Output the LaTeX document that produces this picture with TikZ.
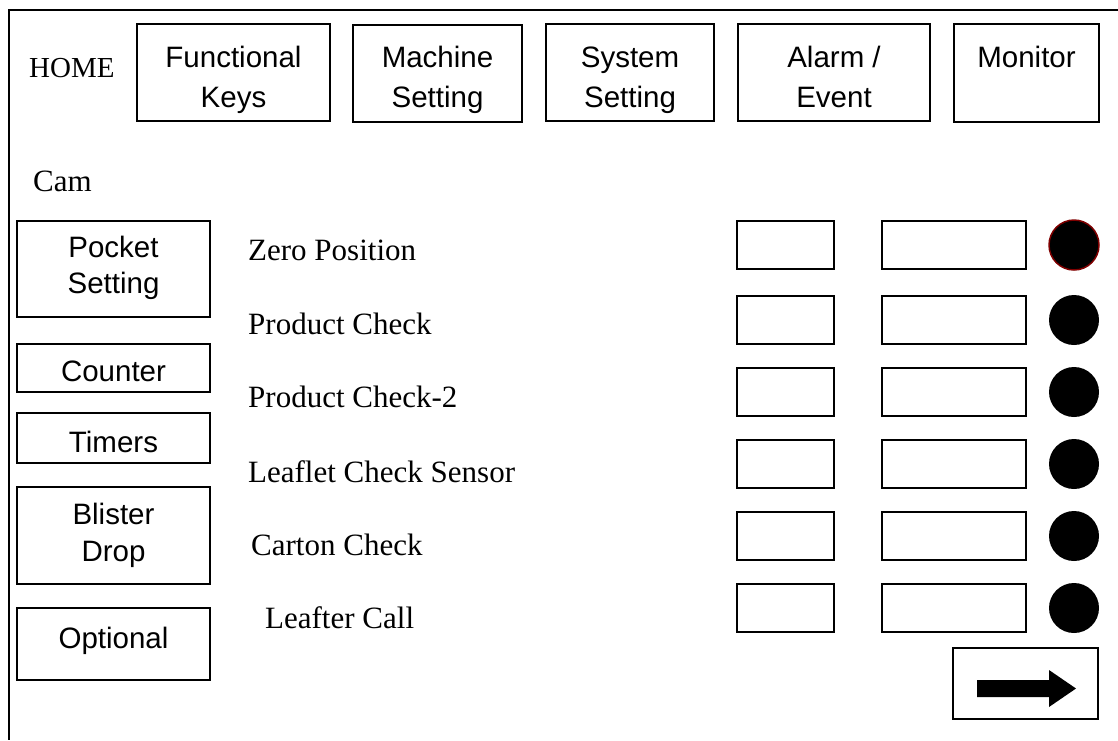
\documentclass[tikz,border=0pt]{standalone}
\usepackage{fontspec}
\setmainfont{Liberation Serif}
\newfontfamily\btnfont{Liberation Sans}
\definecolor{lampred}{RGB}{128,0,0}
\newcommand{\uibox}[6]{\node[#1, minimum width={((#4)-(#2))*1pt}, minimum height={((#5)-(#3))*1pt}] (#6) at ({((#2)+(#4))/2},{((#3)+(#5))/2}) {};}
\tikzset{
  frameline/.style={line width=2.2pt},
  btn/.style={draw, line width=1.4pt, rectangle, inner sep=0pt},
  cell/.style={draw, line width=1.8pt, rectangle, inner sep=0pt},
  lamp/.style={circle, fill=black, inner sep=0pt, minimum size=50pt},
  btntext/.style={font=\btnfont\fontsize{29.5pt}{35pt}\selectfont, inner sep=0pt, anchor=base},
  lbl/.style={font=\fontsize{31pt}{37pt}\selectfont, inner sep=0pt, anchor=base west},
}
\begin{document}
\begin{tikzpicture}[x=1pt,y=-1pt]
\useasboundingbox (0,0) rectangle (1118,740);
% frame
\draw[frameline] (1118,10) -- (9,10) -- (9,740);
% top row
\node[lbl, font=\fontsize{29pt}{35pt}\selectfont] (home) at (29,77) {HOME};
\uibox{btn}{137}{24}{330}{121}{fk}
\node[btntext] (fk1) at (fk.center |- 0,67) {Functional};
\node[btntext] (fk2) at (fk.center |- 0,107) {Keys};
\uibox{btn}{353}{25}{522}{122}{ms}
\node[btntext] (ms1) at (ms.center |- 0,67) {Machine};
\node[btntext] (ms2) at (ms.center |- 0,107) {Setting};
\uibox{btn}{546}{24}{714}{121}{ss}
\node[btntext] (ss1) at (ss.center |- 0,67) {System};
\node[btntext] (ss2) at (ss.center |- 0,107) {Setting};
\uibox{btn}{738}{24}{930}{121}{ae}
\node[btntext] (ae1) at (ae.center |- 0,67) {Alarm /};
\node[btntext] (ae2) at (ae.center |- 0,107) {Event};
\uibox{btn}{954}{24}{1099}{122}{mon}
\node[btntext] (mon1) at (mon.center |- 0,67) {Monitor};
% page title
\node[lbl] (cam) at (33,191) {Cam};
% left buttons
\uibox{btn}{17}{221}{210}{317}{ps}
\node[btntext] (ps1) at (ps.center |- 0,257) {Pocket};
\node[btntext] (ps2) at (ps.center |- 0,293) {Setting};
\uibox{btn}{17}{344}{210}{392}{ct}
\node[btntext] (ct1) at (ct.center |- 0,381) {Counter};
\uibox{btn}{17}{413}{210}{463}{tm}
\node[btntext] (tm1) at (tm.center |- 0,452) {Timers};
\uibox{btn}{17}{487}{210}{584}{bd}
\node[btntext] (bd1) at (bd.center |- 0,524) {Blister};
\node[btntext] (bd2) at (bd.center |- 0,561) {Drop};
\uibox{btn}{17}{608}{210}{680}{op}
\node[btntext] (op1) at (op.center |- 0,648) {Optional};
% labels
\node[lbl] (l1) at (248,260) {Zero Position};
\node[lbl] (l2) at (248,334) {Product Check};
\node[lbl] (l3) at (248,407) {Product Check-2};
\node[lbl] (l4) at (248,482) {Leaflet Check Sensor};
\node[lbl] (l5) at (251,555) {Carton Check};
\node[lbl] (l6) at (265,628) {Leafter Call};
% rows
\foreach \i/\yc in {1/245,2/320,3/392,4/464,5/536,6/608}{
  \uibox{cell}{737}{\yc-24}{834}{\yc+24}{a\i}
  \uibox{cell}{882}{\yc-24}{1026}{\yc+24}{b\i}
}
\node[lamp, draw=lampred, line width=1.5pt] (c1) at (1074,245) {};
\node[lamp] (c2) at (1074,320) {};
\node[lamp] (c3) at (1074,392) {};
\node[lamp] (c4) at (1074,464) {};
\node[lamp] (c5) at (1074,536) {};
\node[lamp] (c6) at (1074,608) {};
% next button
\uibox{btn}{953}{648}{1098}{719}{nx}
\fill (977,680) -- (1049,680) -- (1049,670) -- (1076,688.5) -- (1049,707) -- (1049,697) -- (977,697) -- cycle;
\end{tikzpicture}
\end{document}
